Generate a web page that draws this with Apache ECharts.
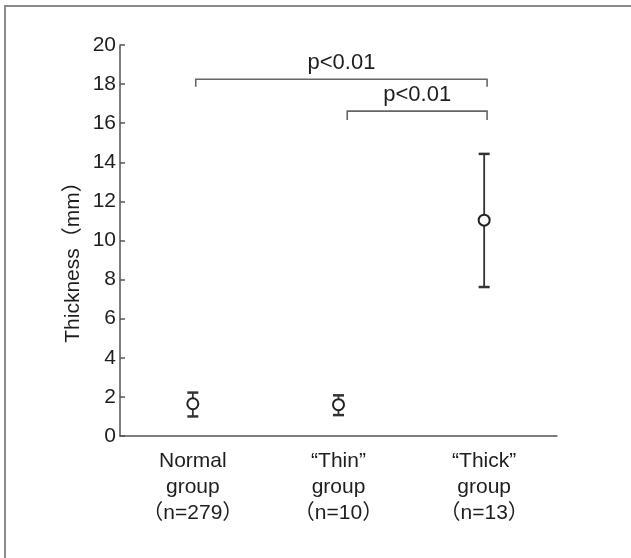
<!DOCTYPE html>
<html>
<head>
<meta charset="utf-8">
<script src="https://cdn.jsdelivr.net/npm/echarts@6/dist/echarts.min.js"></script>
<style>
html,body{margin:0;padding:0;background:#fff;}
#main{width:631px;height:558px;}
</style>
</head>
<body>
<div id="main"></div>
<script>
// ---- data ----
var categories = ['Normal\ngroup\n（n=279）', '“Thin”\ngroup\n（n=10）', '“Thick”\ngroup\n（n=13）'];
var means = [1.65, 1.6, 11.04];
var lows  = [1.0, 1.07, 7.62];
var highs = [2.22, 2.08, 14.43];
var yTicks = [0, 2, 4, 6, 8, 10, 12, 14, 16, 18, 20];
var yName = 'Thickness（mm）';
// significance brackets (x in group-index units)
var bracketFrom = [0.02, 1.06];
var bracketTo   = [2.02, 2.02];
var bracketY    = [18.25, 16.62];
var bracketDrop = [17.87, 16.16];
var bracketText = ['p<0.01', 'p<0.01'];

var FONT = '"Liberation Sans", Arial, "Noto Sans CJK JP", sans-serif';
var TXT = '#1e1e1e';
var AX = '#555';

var chart = echarts.init(document.getElementById('main'), null, {renderer: 'canvas'});

var errData = categories.map(function (c, i) { return [i, lows[i], highs[i]]; });
var ptData = categories.map(function (c, i) { return [i, means[i]]; });
var brData = bracketFrom.map(function (f, i) { return [f, bracketTo[i], bracketY[i], bracketDrop[i]]; });

var option = {
  backgroundColor: '#fff',
  animation: false,
  textStyle: {fontFamily: FONT},
  grid: {left: 120, right: 74, top: 45, bottom: 122, containLabel: false},
  xAxis: [{
    type: 'category',
    data: categories,
    boundaryGap: true,
    axisLine: {onZero: false, lineStyle: {color: AX, width: 1.5}},
    axisTick: {inside: true, length: 6, lineStyle: {color: AX, width: 1.5}},
    axisLabel: {color: TXT, fontSize: 21, lineHeight: 26, margin: 12, fontFamily: FONT},
    splitLine: {show: false}
  }, {
    type: 'value',
    min: -0.5, max: 2.5,
    show: false
  }],
  yAxis: {
    type: 'value',
    min: yTicks[0], max: yTicks[yTicks.length - 1], interval: yTicks[1] - yTicks[0],
    axisLine: {show: true, onZero: false, lineStyle: {color: AX, width: 1.5}},
    axisTick: {show: true, inside: true, length: 5, lineStyle: {color: AX, width: 1.5}},
    axisLabel: {color: TXT, fontSize: 21, margin: 4, fontFamily: FONT},
    splitLine: {show: false}
  },
  graphic: [
    {type: 'rect', shape: {x: 5, y: 6, width: 800, height: 800}, style: {fill: 'none', stroke: '#8a8a8a', lineWidth: 2}, silent: true},
    {type: 'text', x: 73, y: 257, rotation: Math.PI / 2,
     style: {text: yName, fill: TXT, font: '21px ' + FONT, align: 'center', verticalAlign: 'middle'}}
  ],
  series: [{
    type: 'custom',
    xAxisIndex: 0,
    data: errData,
    encode: {x: 0, y: [1, 2]},
    renderItem: function (params, api) {
      var lo = api.coord([api.value(0), api.value(1)]);
      var hi = api.coord([api.value(0), api.value(2)]);
      var w = 5.5;
      var st = {stroke: '#333', lineWidth: 1.8};
      return {type: 'group', children: [
        {type: 'line', shape: {x1: lo[0], y1: lo[1], x2: hi[0], y2: hi[1]}, style: st},
        {type: 'line', shape: {x1: lo[0] - w, y1: lo[1], x2: lo[0] + w, y2: lo[1]}, style: {stroke: '#333', lineWidth: 2.5}},
        {type: 'line', shape: {x1: hi[0] - w, y1: hi[1], x2: hi[0] + w, y2: hi[1]}, style: {stroke: '#333', lineWidth: 2.5}}
      ]};
    },
    z: 2
  }, {
    type: 'scatter',
    xAxisIndex: 0,
    data: ptData,
    symbol: 'circle',
    symbolSize: 11,
    itemStyle: {color: '#fff', borderColor: '#222', borderWidth: 2, opacity: 1},
    z: 3
  }, {
    type: 'custom',
    xAxisIndex: 1,
    data: brData,
    encode: {x: [0, 1], y: [2, 3]},
    renderItem: function (params, api) {
      var a = api.coord([api.value(0), api.value(2)]);
      var b = api.coord([api.value(1), api.value(2)]);
      var ad = api.coord([api.value(0), api.value(3)]);
      var bd = api.coord([api.value(1), api.value(3)]);
      return {type: 'group', children: [
        {type: 'polyline', shape: {points: [[ad[0], ad[1]], [a[0], a[1]], [b[0], b[1]], [bd[0], bd[1]]]},
         style: {stroke: '#666', lineWidth: 1.6, fill: null}},
        {type: 'text', x: (a[0] + b[0]) / 2, y: a[1] - 5,
         style: {text: bracketText[params.dataIndex], fill: TXT, font: '22px ' + FONT, align: 'center', verticalAlign: 'bottom'}}
      ]};
    },
    z: 2
  }]
};
chart.setOption(option);
</script>
</body>
</html>
